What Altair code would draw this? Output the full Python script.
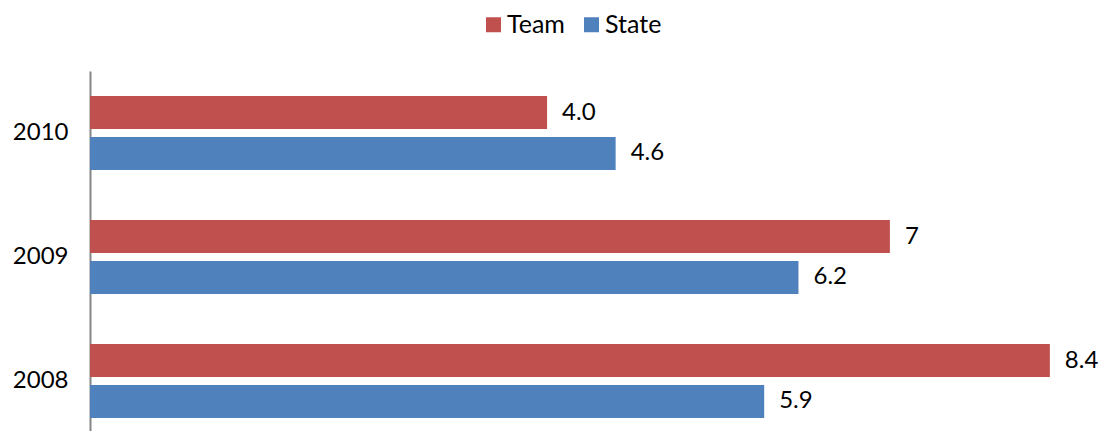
import altair as alt
import pandas as pd

years = ["2010", "2009", "2008"]
series = ["Team", "State"]
team_values = [4.0, 7.0, 8.4]
state_values = [4.6, 6.2, 5.9]
team_labels = ["4.0", "7", "8.4"]
state_labels = ["4.6", "6.2", "5.9"]
colors = ["#C0504D", "#4F81BD"]

rows = []
for y, tv, sv, tl, sl in zip(years, team_values, state_values, team_labels, state_labels):
    rows.append({"year": y, "series": "Team", "value": tv, "label": tl})
    rows.append({"year": y, "series": "State", "value": sv, "label": sl})
df = pd.DataFrame(rows)

FONT = "Lato"

y_enc = alt.Y("year:N", sort=years, title=None,
              scale=alt.Scale(range=[0, 372], paddingInner=0, paddingOuter=0),
              axis=alt.Axis(domainColor="#868686", domainWidth=2, ticks=False,
                            labelFontSize=24, labelFont=FONT, labelColor="#000000",
                            labelPadding=22, grid=False))
yoff_enc = alt.YOffset("series:N", sort=series,
                       scale=alt.Scale(domain=series, paddingInner=8/41, paddingOuter=0.61))
x_enc = alt.X("value:Q", title=None,
              scale=alt.Scale(domain=[0, 8.9], nice=False, zero=True),
              axis=None)

bars = alt.Chart(df).mark_bar(cornerRadius=0).encode(
    x=x_enc,
    y=y_enc,
    yOffset=yoff_enc,
    color=alt.Color("series:N", sort=series,
                    scale=alt.Scale(domain=series, range=colors),
                    legend=alt.Legend(title=None, orient="none", direction="horizontal",
                                      legendX=391, legendY=-59, symbolType="square",
                                      symbolSize=225, symbolStrokeWidth=0,
                                      labelFontSize=25, labelFont=FONT, labelColor="#000000",
                                      labelLimit=200,
                                      columnPadding=14, labelOffset=1, padding=0)),
)

text = alt.Chart(df).mark_text(align="left", baseline="middle", dx=15,
                               fontSize=24, font=FONT, color="#000000").encode(
    x=x_enc,
    y=y_enc,
    yOffset=yoff_enc,
    text="label:N",
)

chart = alt.layer(bars, text).properties(
    width=1017, height=360,
    background="#ffffff",
    autosize=alt.AutoSizeParams(type="none"),
    padding={"left": 82, "top": 63, "right": 0, "bottom": 0},
).configure_view(strokeWidth=0, stroke="transparent")

chart.save("out.html", embed_options={"renderer": "svg", "actions": False})
